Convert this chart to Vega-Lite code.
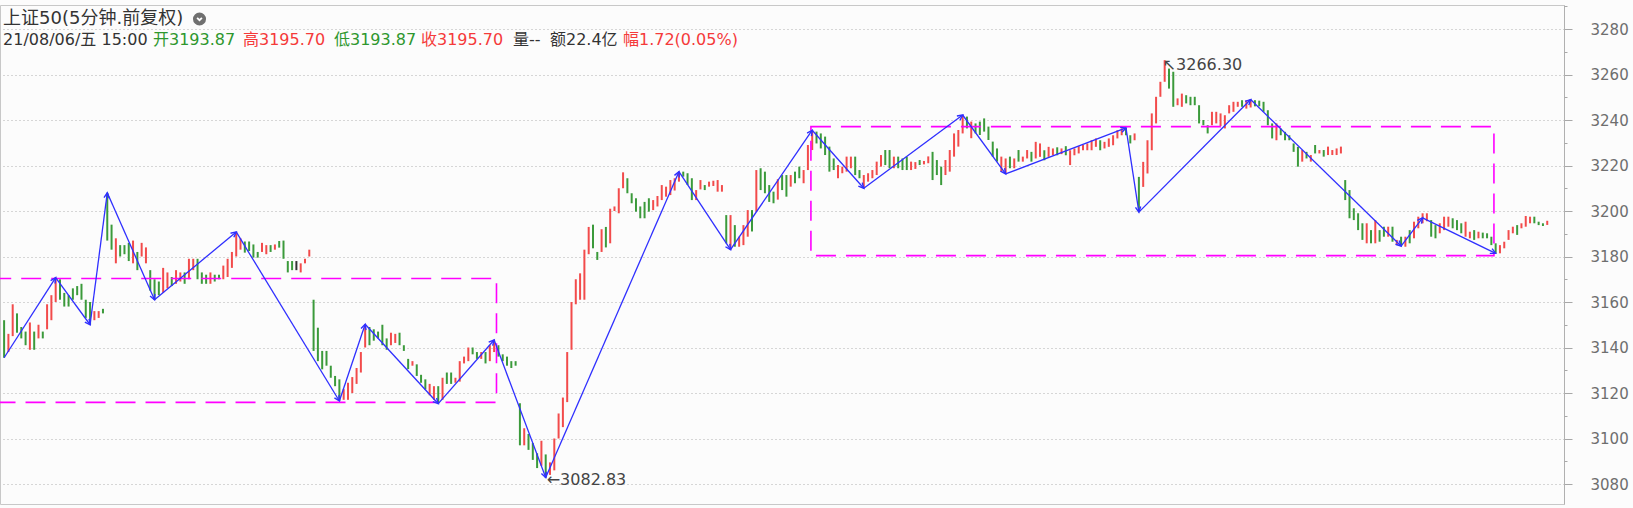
{
 "$schema": "https://vega.github.io/schema/vega-lite/v6.json",
 "width": 1564,
 "height": 499,
 "autosize": {"type": "none"},
 "padding": {"left": 0, "top": 5, "right": 69, "bottom": 4},
 "background": "#fcfcfc",
 "config": {"view": {"stroke": "#c8c8c8", "strokeWidth": 1, "fill": "#fcfcfc"}},
 "resolve": {"axis": {"y": "independent"}},
 "datasets": {
  "bars": [
   {"i":0,"o":3152,"h":3152,"l":3135.5,"c":3136},{"i":1,"o":3138,"h":3146,"l":3138,"c":3146},{"i":2,"o":3145,"h":3159,"l":3145,"c":3159},{"i":3,"o":3155,"h":3155,"l":3146.5,"c":3146.5},{"i":4,"o":3149,"h":3149,"l":3144,"c":3144},{"i":5,"o":3147,"h":3147,"l":3141,"c":3141},{"i":6,"o":3139,"h":3151,"l":3139,"c":3151},{"i":7,"o":3147,"h":3147,"l":3139,"c":3139},{"i":8,"o":3144,"h":3150,"l":3144,"c":3150},{"i":9,"o":3147,"h":3147,"l":3144,"c":3144},{"i":10,"o":3148,"h":3159,"l":3148,"c":3159},{"i":11,"o":3152,"h":3163,"l":3152,"c":3163},{"i":12,"o":3160,"h":3170.7,"l":3160,"c":3169},{"i":13,"o":3170,"h":3170,"l":3161,"c":3161},{"i":14,"o":3164,"h":3164,"l":3158,"c":3158},{"i":15,"o":3163,"h":3163,"l":3158,"c":3158},{"i":16,"o":3166,"h":3166,"l":3161,"c":3161},{"i":17,"o":3167,"h":3167,"l":3163,"c":3163},{"i":18,"o":3168,"h":3168,"l":3161,"c":3161},{"i":19,"o":3161,"h":3161,"l":3153,"c":3153},{"i":20,"o":3160,"h":3160,"l":3150,"c":3151},{"i":21,"o":3152,"h":3156,"l":3152,"c":3156},{"i":22,"o":3153,"h":3156,"l":3153,"c":3156},{"i":23,"o":3157,"h":3157,"l":3155,"c":3155},
   {"i":24,"o":3208,"h":3208,"l":3187,"c":3187},{"i":25,"o":3194,"h":3194,"l":3183,"c":3183},{"i":26,"o":3177,"h":3188,"l":3177,"c":3188},{"i":27,"o":3185,"h":3185,"l":3180,"c":3180},{"i":28,"o":3185,"h":3185,"l":3181,"c":3181},{"i":29,"o":3186,"h":3186,"l":3178,"c":3178},{"i":30,"o":3177,"h":3187,"l":3177,"c":3187},{"i":31,"o":3182,"h":3182,"l":3174,"c":3174},{"i":32,"o":3180,"h":3186,"l":3180,"c":3186},{"i":33,"o":3177,"h":3184,"l":3177,"c":3184},{"i":34,"o":3174,"h":3174,"l":3165,"c":3165},{"i":35,"o":3170,"h":3170,"l":3161,"c":3162},{"i":36,"o":3169,"h":3169,"l":3163,"c":3163},{"i":37,"o":3164,"h":3175,"l":3164,"c":3175},{"i":38,"o":3166,"h":3173,"l":3166,"c":3173},{"i":39,"o":3171,"h":3171,"l":3167,"c":3167},{"i":40,"o":3168,"h":3174,"l":3168,"c":3174},{"i":41,"o":3169,"h":3173,"l":3169,"c":3173},{"i":42,"o":3173,"h":3173,"l":3168,"c":3168},{"i":43,"o":3170,"h":3179,"l":3170,"c":3179},{"i":44,"o":3174,"h":3179,"l":3174,"c":3179},{"i":45,"o":3179,"h":3179,"l":3170,"c":3170},{"i":46,"o":3173,"h":3173,"l":3168,"c":3168},{"i":47,"o":3172,"h":3172,"l":3168,"c":3168},{"i":48,"o":3168,"h":3173,"l":3168,"c":3173},{"i":49,"o":3172,"h":3172,"l":3169,"c":3169},{"i":50,"o":3172,"h":3172,"l":3170,"c":3170},{"i":51,"o":3170,"h":3176,"l":3170,"c":3176},{"i":52,"o":3171,"h":3179,"l":3171,"c":3179},{"i":53,"o":3175,"h":3182,"l":3175,"c":3182},{"i":54,"o":3180,"h":3190.8,"l":3180,"c":3190.8},{"i":55,"o":3183,"h":3188,"l":3183,"c":3188},{"i":56,"o":3186.6,"h":3186.6,"l":3181.7,"c":3181.7},{"i":57,"o":3186.6,"h":3186.6,"l":3182.4,"c":3182.4},{"i":58,"o":3185.3,"h":3185.3,"l":3179.5,"c":3179.5},{"i":59,"o":3182,"h":3182,"l":3179.5,"c":3179.5},{"i":60,"o":3182,"h":3186,"l":3182,"c":3186},{"i":61,"o":3181,"h":3185,"l":3181,"c":3185},{"i":62,"o":3185,"h":3185,"l":3182,"c":3182},{"i":63,"o":3183,"h":3185.3,"l":3183,"c":3185.3},{"i":64,"o":3186.8,"h":3186.8,"l":3183.9,"c":3183.9},{"i":65,"o":3187,"h":3187,"l":3179,"c":3179},{"i":66,"o":3178,"h":3178,"l":3173,"c":3173},{"i":67,"o":3178,"h":3178,"l":3174,"c":3174},{"i":68,"o":3175.5,"h":3178,"l":3174,"c":3175.5},{"i":69,"o":3173,"h":3177,"l":3173,"c":3177},{"i":70,"o":3177,"h":3179,"l":3177,"c":3179},{"i":71,"o":3180,"h":3183,"l":3180,"c":3183},
   {"i":72,"o":3161,"h":3161,"l":3138.5,"c":3138.5},{"i":73,"o":3148.7,"h":3148.7,"l":3134,"c":3134},{"i":74,"o":3138.5,"h":3138.5,"l":3130.4,"c":3130.4},{"i":75,"o":3138.5,"h":3138.5,"l":3132,"c":3132},{"i":76,"o":3132,"h":3132,"l":3126.7,"c":3126.7},{"i":77,"o":3127.5,"h":3127.5,"l":3123,"c":3123},{"i":78,"o":3126,"h":3126,"l":3116.5,"c":3117},{"i":79,"o":3117,"h":3121.7,"l":3117,"c":3121.7},{"i":80,"o":3117,"h":3124.5,"l":3117,"c":3124.5},{"i":81,"o":3120,"h":3127,"l":3120,"c":3127},{"i":82,"o":3124,"h":3131,"l":3124,"c":3131},{"i":83,"o":3129,"h":3138,"l":3129,"c":3138},{"i":84,"o":3140,"h":3150.2,"l":3140,"c":3150},{"i":85,"o":3149,"h":3149,"l":3141,"c":3141},{"i":86,"o":3148,"h":3148,"l":3143,"c":3143},{"i":87,"o":3147,"h":3147,"l":3144,"c":3144},{"i":88,"o":3150,"h":3150,"l":3141,"c":3141},{"i":89,"o":3144,"h":3144,"l":3139,"c":3139},{"i":90,"o":3141,"h":3146.5,"l":3141,"c":3146.5},{"i":91,"o":3142,"h":3146,"l":3142,"c":3146},{"i":92,"o":3146.5,"h":3146.5,"l":3141,"c":3141},{"i":93,"o":3141,"h":3141,"l":3138.5,"c":3138.5},{"i":94,"o":3135,"h":3135,"l":3130.5,"c":3130.5},{"i":95,"o":3132,"h":3134,"l":3132,"c":3134},{"i":96,"o":3132.6,"h":3132.6,"l":3127.5,"c":3127.5},{"i":97,"o":3128,"h":3128,"l":3124.5,"c":3124.5},{"i":98,"o":3126,"h":3126,"l":3121.6,"c":3121.6},{"i":99,"o":3119,"h":3124,"l":3119,"c":3124},{"i":100,"o":3117,"h":3123,"l":3117,"c":3123},{"i":101,"o":3123,"h":3123,"l":3115.3,"c":3116},{"i":102,"o":3117,"h":3126.7,"l":3117,"c":3126.7},{"i":103,"o":3129,"h":3129,"l":3124,"c":3124},{"i":104,"o":3129,"h":3129,"l":3124,"c":3124},{"i":105,"o":3124.5,"h":3126.7,"l":3124.5,"c":3126.7},{"i":106,"o":3125,"h":3134,"l":3125,"c":3134},{"i":107,"o":3133,"h":3136,"l":3133,"c":3136},{"i":108,"o":3134,"h":3140,"l":3134,"c":3140},{"i":109,"o":3140,"h":3140,"l":3137,"c":3137},{"i":110,"o":3138,"h":3138,"l":3135,"c":3135},{"i":111,"o":3135,"h":3138,"l":3135,"c":3138},{"i":112,"o":3138,"h":3138,"l":3133,"c":3133},{"i":113,"o":3134,"h":3141,"l":3134,"c":3141},{"i":114,"o":3138,"h":3143.3,"l":3138,"c":3143},{"i":115,"o":3141,"h":3141,"l":3136,"c":3136},{"i":116,"o":3137,"h":3137,"l":3134,"c":3134},{"i":117,"o":3136,"h":3136,"l":3132,"c":3132},{"i":118,"o":3134,"h":3134,"l":3131,"c":3131},{"i":119,"o":3134,"h":3134,"l":3132,"c":3132},
   {"i":120,"o":3115.5,"h":3115.5,"l":3097,"c":3097},{"i":121,"o":3097,"h":3104.5,"l":3097,"c":3104.5},{"i":122,"o":3102,"h":3102,"l":3095,"c":3095},{"i":123,"o":3098,"h":3098,"l":3090.6,"c":3090.6},{"i":124,"o":3093.5,"h":3093.5,"l":3087,"c":3087},{"i":125,"o":3088,"h":3099,"l":3088,"c":3099},{"i":126,"o":3093,"h":3093,"l":3082.83,"c":3085},{"i":127,"o":3084,"h":3089.5,"l":3084,"c":3089.5},{"i":128,"o":3086,"h":3100,"l":3086,"c":3100},{"i":129,"o":3100,"h":3111,"l":3100,"c":3111},{"i":130,"o":3105,"h":3118,"l":3105,"c":3118},{"i":131,"o":3116,"h":3138,"l":3116,"c":3138},{"i":132,"o":3139,"h":3160,"l":3139,"c":3160},{"i":133,"o":3159,"h":3170,"l":3159,"c":3170},{"i":134,"o":3161,"h":3172.6,"l":3161,"c":3172.6},{"i":135,"o":3161,"h":3183,"l":3161,"c":3183},{"i":136,"o":3181,"h":3193,"l":3181,"c":3193},{"i":137,"o":3194,"h":3194,"l":3183.6,"c":3183.6},{"i":138,"o":3182,"h":3182,"l":3178.5,"c":3178.5},{"i":139,"o":3182,"h":3192,"l":3182,"c":3192},{"i":140,"o":3193,"h":3193,"l":3184,"c":3184},{"i":141,"o":3185.8,"h":3201,"l":3185.8,"c":3201},{"i":142,"o":3200,"h":3202,"l":3200,"c":3202},{"i":143,"o":3199,"h":3210,"l":3199,"c":3210},{"i":144,"o":3210,"h":3217,"l":3210,"c":3217},{"i":145,"o":3214.4,"h":3214.4,"l":3207.8,"c":3207.8},{"i":146,"o":3207.8,"h":3207.8,"l":3203.4,"c":3203.4},{"i":147,"o":3205.6,"h":3205.6,"l":3199.7,"c":3199.7},{"i":148,"o":3202,"h":3202,"l":3196.8,"c":3196.8},{"i":149,"o":3204,"h":3204,"l":3196.8,"c":3196.8},{"i":150,"o":3205.6,"h":3205.6,"l":3199.7,"c":3199.7},{"i":151,"o":3200.4,"h":3204.8,"l":3200.4,"c":3204.8},{"i":152,"o":3202,"h":3206.6,"l":3202,"c":3206.6},{"i":153,"o":3204.8,"h":3211.4,"l":3204.8,"c":3211.4},{"i":154,"o":3206.3,"h":3210.7,"l":3206.3,"c":3210.7},{"i":155,"o":3207,"h":3213.6,"l":3207,"c":3213.6},{"i":156,"o":3209,"h":3214.4,"l":3209,"c":3214.4},{"i":157,"o":3212.9,"h":3217.3,"l":3212.9,"c":3217.3},{"i":158,"o":3217.3,"h":3217.3,"l":3215.1,"c":3215.1},{"i":159,"o":3216.6,"h":3216.6,"l":3211.4,"c":3211.4},{"i":160,"o":3214.4,"h":3214.4,"l":3204.8,"c":3204.8},{"i":161,"o":3204.8,"h":3209.2,"l":3204.8,"c":3209.2},{"i":162,"o":3209.5,"h":3213.6,"l":3209.5,"c":3213.6},{"i":163,"o":3211.4,"h":3211.4,"l":3209.2,"c":3209.2},{"i":164,"o":3210.7,"h":3212.9,"l":3210.7,"c":3212.9},{"i":165,"o":3211,"h":3213.3,"l":3211,"c":3213.3},{"i":166,"o":3208.5,"h":3213.6,"l":3208.5,"c":3213.6},{"i":167,"o":3208.5,"h":3211.4,"l":3208.5,"c":3211.4},
   {"i":168,"o":3198.2,"h":3198.2,"l":3185.8,"c":3185.8},{"i":169,"o":3185.8,"h":3198.2,"l":3183,"c":3198.2},{"i":170,"o":3193.8,"h":3193.8,"l":3184.3,"c":3184.3},{"i":171,"o":3184.3,"h":3188.7,"l":3184.3,"c":3188.7},{"i":172,"o":3185,"h":3193.8,"l":3185,"c":3193.8},{"i":173,"o":3188.7,"h":3200.4,"l":3188.7,"c":3200.4},{"i":174,"o":3200.4,"h":3200.4,"l":3191,"c":3191},{"i":175,"o":3199.7,"h":3218,"l":3199.7,"c":3218},{"i":176,"o":3218.8,"h":3218.8,"l":3209.2,"c":3209.2},{"i":177,"o":3217.3,"h":3217.3,"l":3207.8,"c":3207.8},{"i":178,"o":3211.4,"h":3211.4,"l":3204,"c":3204},{"i":179,"o":3208.5,"h":3208.5,"l":3203.4,"c":3203.4},{"i":180,"o":3205,"h":3214,"l":3205,"c":3214},{"i":181,"o":3215.8,"h":3215.8,"l":3209.2,"c":3209.2},{"i":182,"o":3215.8,"h":3215.8,"l":3206.3,"c":3206.3},{"i":183,"o":3210.7,"h":3215.8,"l":3210.7,"c":3215.8},{"i":184,"o":3217.3,"h":3217.3,"l":3212.2,"c":3212.2},{"i":185,"o":3219.5,"h":3219.5,"l":3214.4,"c":3214.4},{"i":186,"o":3212.2,"h":3218,"l":3212.2,"c":3218},{"i":187,"o":3218,"h":3229,"l":3218,"c":3229},{"i":188,"o":3226.8,"h":3235.5,"l":3226.8,"c":3235.5},{"i":189,"o":3234.9,"h":3234.9,"l":3229.7,"c":3229.7},{"i":190,"o":3234.1,"h":3234.1,"l":3227.5,"c":3227.5},{"i":191,"o":3232.7,"h":3232.7,"l":3224.6,"c":3224.6},{"i":192,"o":3228.3,"h":3228.3,"l":3217.3,"c":3217.3},{"i":193,"o":3223.1,"h":3223.1,"l":3218,"c":3218},{"i":194,"o":3214.4,"h":3220.2,"l":3214.4,"c":3220.2},{"i":195,"o":3216.6,"h":3219.5,"l":3216.6,"c":3219.5},{"i":196,"o":3217.3,"h":3223.9,"l":3217.3,"c":3223.9},{"i":197,"o":3218.8,"h":3223.9,"l":3218.8,"c":3223.9},{"i":198,"o":3223.9,"h":3223.9,"l":3215.8,"c":3215.8},{"i":199,"o":3218,"h":3218,"l":3214.4,"c":3214.4},{"i":200,"o":3210.7,"h":3215.8,"l":3210,"c":3215.8},{"i":201,"o":3212.9,"h":3216.6,"l":3212.9,"c":3216.6},{"i":202,"o":3214.4,"h":3218,"l":3214.4,"c":3218},{"i":203,"o":3215.8,"h":3221.7,"l":3215.8,"c":3221.7},{"i":204,"o":3219.5,"h":3224.6,"l":3219.5,"c":3224.6},{"i":205,"o":3226.8,"h":3226.8,"l":3220.2,"c":3220.2},{"i":206,"o":3226.8,"h":3226.8,"l":3218.8,"c":3218.8},{"i":207,"o":3218.8,"h":3223.9,"l":3218.8,"c":3223.9},{"i":208,"o":3223.9,"h":3223.9,"l":3218.8,"c":3218.8},{"i":209,"o":3223.1,"h":3223.1,"l":3218,"c":3218},{"i":210,"o":3223.9,"h":3223.9,"l":3218,"c":3218},{"i":211,"o":3218,"h":3221.7,"l":3218,"c":3221.7},{"i":212,"o":3218.5,"h":3221.5,"l":3218.5,"c":3221.5},{"i":213,"o":3222.4,"h":3222.4,"l":3220.2,"c":3220.2},{"i":214,"o":3220.5,"h":3222,"l":3220.5,"c":3222},{"i":215,"o":3221,"h":3224,"l":3221,"c":3224},
   {"i":216,"o":3226,"h":3226,"l":3213.6,"c":3213.6},{"i":217,"o":3222.4,"h":3222.4,"l":3215.8,"c":3215.8},{"i":218,"o":3219.5,"h":3219.5,"l":3211.4,"c":3211.4},{"i":219,"o":3215.8,"h":3222.4,"l":3215.8,"c":3222.4},{"i":220,"o":3217.3,"h":3226.8,"l":3217.3,"c":3226.8},{"i":221,"o":3223.9,"h":3234.1,"l":3223.9,"c":3234.1},{"i":222,"o":3228.3,"h":3235.6,"l":3228.3,"c":3235.6},{"i":223,"o":3234.1,"h":3242.2,"l":3234.1,"c":3242.2},{"i":224,"o":3241.5,"h":3241.5,"l":3236.3,"c":3236.3},{"i":225,"o":3232,"h":3239.3,"l":3232,"c":3239.3},{"i":226,"o":3238.5,"h":3238.5,"l":3234.1,"c":3234.1},{"i":227,"o":3239.3,"h":3239.3,"l":3233.4,"c":3233.4},{"i":228,"o":3240.7,"h":3240.7,"l":3234.9,"c":3234.9},{"i":229,"o":3237.1,"h":3237.1,"l":3231.2,"c":3231.2},{"i":230,"o":3230.5,"h":3230.5,"l":3223.9,"c":3223.9},{"i":231,"o":3227.5,"h":3227.5,"l":3221.7,"c":3221.7},{"i":232,"o":3217.3,"h":3223.9,"l":3217.3,"c":3223.9},{"i":233,"o":3216.6,"h":3223.1,"l":3216.3,"c":3223.1},{"i":234,"o":3223.9,"h":3223.9,"l":3218.8,"c":3218.8},{"i":235,"o":3218.8,"h":3223.1,"l":3218.8,"c":3223.1},{"i":236,"o":3226.8,"h":3226.8,"l":3221.7,"c":3221.7},{"i":237,"o":3221.7,"h":3223.9,"l":3221.7,"c":3223.9},{"i":238,"o":3223.1,"h":3226.8,"l":3223.1,"c":3226.8},{"i":239,"o":3226,"h":3226,"l":3221.7,"c":3221.7},{"i":240,"o":3223.1,"h":3230.4,"l":3223.1,"c":3230.4},{"i":241,"o":3223.8,"h":3229.7,"l":3223.8,"c":3229.7},{"i":242,"o":3226.7,"h":3226.7,"l":3222.3,"c":3222.3},{"i":243,"o":3223.8,"h":3228.2,"l":3223.8,"c":3228.2},{"i":244,"o":3224.5,"h":3227.5,"l":3224.5,"c":3227.5},{"i":245,"o":3228,"h":3228,"l":3224.5,"c":3224.5},{"i":246,"o":3225,"h":3227.5,"l":3225,"c":3227.5},{"i":247,"o":3228.5,"h":3228.5,"l":3224.5,"c":3224.5},{"i":248,"o":3220.2,"h":3226.7,"l":3220.2,"c":3226.7},{"i":249,"o":3224.5,"h":3227.5,"l":3224.5,"c":3227.5},{"i":250,"o":3225.3,"h":3228.5,"l":3225.3,"c":3228.5},{"i":251,"o":3226.7,"h":3229,"l":3226.7,"c":3229},{"i":252,"o":3226.7,"h":3229.7,"l":3226.7,"c":3229.7},{"i":253,"o":3226.7,"h":3231.1,"l":3226.7,"c":3231.1},{"i":254,"o":3228.2,"h":3231.9,"l":3228.2,"c":3231.9},{"i":255,"o":3231.1,"h":3231.1,"l":3226.7,"c":3226.7},{"i":256,"o":3227.5,"h":3230.4,"l":3227.5,"c":3230.4},{"i":257,"o":3228.2,"h":3231.9,"l":3228.2,"c":3231.9},{"i":258,"o":3228.9,"h":3233.3,"l":3228.9,"c":3233.3},{"i":259,"o":3231.9,"h":3235.5,"l":3231.9,"c":3235.5},{"i":260,"o":3233.3,"h":3236.3,"l":3233.3,"c":3236.3},{"i":261,"o":3236.5,"h":3236.5,"l":3233.3,"c":3233.3},{"i":262,"o":3233.3,"h":3233.3,"l":3229.7,"c":3229.7},{"i":263,"o":3231.1,"h":3234.1,"l":3231.1,"c":3234.1},
   {"i":264,"o":3215,"h":3215,"l":3199.5,"c":3201},{"i":265,"o":3210.6,"h":3221.6,"l":3210.6,"c":3221.6},{"i":266,"o":3216.5,"h":3231.1,"l":3216.5,"c":3231.1},{"i":267,"o":3226.7,"h":3242.9,"l":3226.7,"c":3242.9},{"i":268,"o":3238.5,"h":3250.2,"l":3238.5,"c":3250.2},{"i":269,"o":3250.2,"h":3256.8,"l":3250.2,"c":3256.8},{"i":270,"o":3256.8,"h":3266.3,"l":3256.8,"c":3264},{"i":271,"o":3262.6,"h":3262.6,"l":3253.8,"c":3253.8},{"i":272,"o":3261.2,"h":3261.2,"l":3245.8,"c":3245.8},{"i":273,"o":3246.5,"h":3249.5,"l":3246.5,"c":3249.5},{"i":274,"o":3245.8,"h":3251.6,"l":3245.8,"c":3251.6},{"i":275,"o":3250.9,"h":3250.9,"l":3247.3,"c":3247.3},{"i":276,"o":3250.2,"h":3250.2,"l":3246.5,"c":3246.5},{"i":277,"o":3250.2,"h":3250.2,"l":3246.5,"c":3246.5},{"i":278,"o":3246.5,"h":3246.5,"l":3238.5,"c":3238.5},{"i":279,"o":3240,"h":3240,"l":3237.7,"c":3237.7},{"i":280,"o":3237.7,"h":3237.7,"l":3234.1,"c":3234.1},{"i":281,"o":3237.7,"h":3243.6,"l":3237.7,"c":3243.6},{"i":282,"o":3238.5,"h":3243.6,"l":3238.5,"c":3243.6},{"i":283,"o":3237.3,"h":3242.9,"l":3237.3,"c":3242.9},{"i":284,"o":3236.3,"h":3242.1,"l":3236.3,"c":3242.1},{"i":285,"o":3242.9,"h":3246.5,"l":3242.9,"c":3246.5},{"i":286,"o":3243.6,"h":3248,"l":3243.6,"c":3248},{"i":287,"o":3245.8,"h":3248,"l":3245.8,"c":3248},{"i":288,"o":3248.7,"h":3248.7,"l":3245.8,"c":3245.8},{"i":289,"o":3245,"h":3248.7,"l":3245,"c":3248.7},{"i":290,"o":3245.5,"h":3249,"l":3245.5,"c":3248.5},{"i":291,"o":3248.7,"h":3248.7,"l":3246,"c":3246},{"i":292,"o":3248.5,"h":3248.5,"l":3246,"c":3246},{"i":293,"o":3248,"h":3248,"l":3243.6,"c":3243.6},{"i":294,"o":3244.3,"h":3244.3,"l":3237.7,"c":3237.7},{"i":295,"o":3238.5,"h":3238.5,"l":3231.9,"c":3231.9},{"i":296,"o":3231.1,"h":3238.5,"l":3231.1,"c":3238.5},{"i":297,"o":3236.3,"h":3236.3,"l":3233.3,"c":3233.3},{"i":298,"o":3234.8,"h":3234.8,"l":3231.1,"c":3231.1},{"i":299,"o":3233.3,"h":3233.3,"l":3231.1,"c":3231.1},{"i":300,"o":3229.7,"h":3229.7,"l":3226,"c":3226},{"i":301,"o":3228.2,"h":3228.2,"l":3219.5,"c":3219.5},{"i":302,"o":3221.7,"h":3226.8,"l":3221.7,"c":3226.8},{"i":303,"o":3226,"h":3226,"l":3223.1,"c":3223.1},{"i":304,"o":3221.7,"h":3224.6,"l":3221.7,"c":3224.6},{"i":305,"o":3229,"h":3229,"l":3225.3,"c":3225.3},{"i":306,"o":3225.3,"h":3226.8,"l":3225.3,"c":3226.8},{"i":307,"o":3226.8,"h":3226.8,"l":3223.9,"c":3223.9},{"i":308,"o":3224.6,"h":3228.3,"l":3224.6,"c":3228.3},{"i":309,"o":3224.6,"h":3226.8,"l":3224.6,"c":3226.8},{"i":310,"o":3224.6,"h":3227.5,"l":3224.6,"c":3227.5},{"i":311,"o":3225.3,"h":3228.3,"l":3225.3,"c":3228.3},
   {"i":312,"o":3213.6,"h":3213.6,"l":3204.8,"c":3204.8},{"i":313,"o":3209.2,"h":3209.2,"l":3196.8,"c":3196.8},{"i":314,"o":3201.2,"h":3201.2,"l":3196,"c":3196},{"i":315,"o":3199,"h":3199,"l":3191.6,"c":3191.6},{"i":316,"o":3194.6,"h":3194.6,"l":3187.3,"c":3187.3},{"i":317,"o":3185.8,"h":3194.6,"l":3185.8,"c":3194.6},{"i":318,"o":3191.6,"h":3191.6,"l":3185.8,"c":3185.8},{"i":319,"o":3185.8,"h":3196,"l":3185.8,"c":3196},{"i":320,"o":3191.6,"h":3191.6,"l":3186.5,"c":3186.5},{"i":321,"o":3193.1,"h":3193.1,"l":3188.7,"c":3188.7},{"i":322,"o":3188.7,"h":3193.1,"l":3188.7,"c":3193.1},{"i":323,"o":3193.1,"h":3193.1,"l":3186.5,"c":3186.5},{"i":324,"o":3185,"h":3187.3,"l":3185,"c":3187.3},{"i":325,"o":3188.7,"h":3188.7,"l":3184.6,"c":3184.6},{"i":326,"o":3184.3,"h":3188.7,"l":3184.3,"c":3188.7},{"i":327,"o":3191.6,"h":3191.6,"l":3185.8,"c":3185.8},{"i":328,"o":3188,"h":3195.3,"l":3188,"c":3195.3},{"i":329,"o":3192.4,"h":3197.5,"l":3192.4,"c":3197.5},{"i":330,"o":3194.6,"h":3199,"l":3194.6,"c":3197},{"i":331,"o":3195.5,"h":3199,"l":3195.5,"c":3199},{"i":332,"o":3196,"h":3196,"l":3188.7,"c":3188.7},{"i":333,"o":3193.8,"h":3193.8,"l":3188,"c":3188},{"i":334,"o":3190.2,"h":3194.6,"l":3190.2,"c":3194.6},{"i":335,"o":3191.6,"h":3197.5,"l":3191.6,"c":3197.5},{"i":336,"o":3193.1,"h":3197.5,"l":3193.1,"c":3197.5},{"i":337,"o":3196.8,"h":3196.8,"l":3192.4,"c":3192.4},{"i":338,"o":3196,"h":3196,"l":3191.6,"c":3191.6},{"i":339,"o":3194.6,"h":3194.6,"l":3190.2,"c":3190.2},{"i":340,"o":3188.7,"h":3195.3,"l":3188.7,"c":3195.3},{"i":341,"o":3188,"h":3190.9,"l":3188,"c":3190.9},{"i":342,"o":3191.6,"h":3191.6,"l":3187.3,"c":3187.3},{"i":343,"o":3188,"h":3190.9,"l":3188,"c":3190.9},{"i":344,"o":3190.5,"h":3190.5,"l":3188,"c":3188},{"i":345,"o":3190.2,"h":3190.2,"l":3188,"c":3188},{"i":346,"o":3188.7,"h":3188.7,"l":3185,"c":3185},{"i":347,"o":3185.8,"h":3185.8,"l":3181.4,"c":3181.4},{"i":348,"o":3181.4,"h":3185,"l":3181.4,"c":3185},{"i":349,"o":3183.6,"h":3186.5,"l":3183.6,"c":3186.5},{"i":350,"o":3187.3,"h":3191.6,"l":3187.3,"c":3191.6},{"i":351,"o":3190.2,"h":3193.1,"l":3190.2,"c":3193.1},{"i":352,"o":3193.8,"h":3193.8,"l":3189.5,"c":3189.5},{"i":353,"o":3192.4,"h":3194.6,"l":3192.4,"c":3194.6},{"i":354,"o":3193.1,"h":3197.8,"l":3193.1,"c":3197.8},{"i":355,"o":3194.6,"h":3197.5,"l":3194.6,"c":3197.5},{"i":356,"o":3197.5,"h":3197.5,"l":3194.6,"c":3194.6},{"i":357,"o":3195.3,"h":3195.3,"l":3193.8,"c":3193.8},{"i":358,"o":3194.6,"h":3194.6,"l":3193.4,"c":3193.4},{"i":359,"o":3193.87,"h":3195.7,"l":3193.87,"c":3195.7}
  ],
  "zig": [
   {"i0":0,"p0":3135.5,"i1":12,"p1":3170.7},{"i0":12,"p0":3170.7,"i1":20,"p1":3150},{"i0":20,"p0":3150,"i1":24,"p1":3208},{"i0":24,"p0":3208,"i1":35,"p1":3161},{"i0":35,"p0":3161,"i1":54,"p1":3190.8},{"i0":54,"p0":3190.8,"i1":78,"p1":3116.5},{"i0":78,"p0":3116.5,"i1":84,"p1":3150.2},{"i0":84,"p0":3150.2,"i1":101,"p1":3115.3},{"i0":101,"p0":3115.3,"i1":114,"p1":3143.3},{"i0":114,"p0":3143.3,"i1":126,"p1":3082.83},{"i0":126,"p0":3082.83,"i1":157,"p1":3217.3},{"i0":157,"p0":3217.3,"i1":169,"p1":3183},{"i0":169,"p0":3183,"i1":188,"p1":3235.5},{"i0":188,"p0":3235.5,"i1":200,"p1":3210},{"i0":200,"p0":3210,"i1":223,"p1":3242.2},{"i0":223,"p0":3242.2,"i1":233,"p1":3216.3},{"i0":233,"p0":3216.3,"i1":261,"p1":3236.5},{"i0":261,"p0":3236.5,"i1":264,"p1":3199.5},{"i0":264,"p0":3199.5,"i1":290,"p1":3249},{"i0":290,"p0":3249,"i1":325,"p1":3184.6},{"i0":325,"p0":3184.6,"i1":330,"p1":3197},{"i0":330,"p0":3197,"i1":347,"p1":3181.4}
  ],
  "boxes": [
   {"x0":-3,"x1":114.55,"lo":3115.9,"hi":3170.3},
   {"x0":187.7,"x1":346.6,"lo":3180.4,"hi":3237.1}
  ],
  "lowlab": [{"i":126,"p":3082.83,"t":"←3082.83"}],
  "highlab": [{"i":270,"p":3266.3,"t":"↖3266.30"}],
  "title1": [{"i":-0.23,"p":3284.4,"t":"上证50(5分钟.前复权)"}],
  "title2": [
   {"i":-0.23,"p":3274.95,"t":"21/08/06/五 15:00","tone":"dark"},
   {"i":34.64,"p":3274.95,"t":"开3193.87","tone":"down"},
   {"i":55.58,"p":3274.95,"t":"高3195.70","tone":"up"},
   {"i":76.74,"p":3274.95,"t":"低3193.87","tone":"down"},
   {"i":96.99,"p":3274.95,"t":"收3195.70","tone":"up"},
   {"i":118.39,"p":3274.95,"t":"量--","tone":"dark"},
   {"i":126.99,"p":3274.95,"t":"额22.4亿","tone":"dark"},
   {"i":143.98,"p":3274.95,"t":"幅1.72(0.05%)","tone":"up"}
  ],
  "icon": [{"i":45.46,"p":3284.4}]
 },
 "layer": [
  {
   "data": {"name": "bars"},
   "mark": {"type": "rule", "strokeWidth": 2},
   "encoding": {
    "x": {"field": "i", "type": "quantitative", "scale": {"domain": [-0.954, 362.9], "nice": false, "zero": false},
          "axis": {"orient": "bottom", "values": [24, 72, 120, 168, 216, 264, 312], "grid": true, "gridColor": "#b0b0b0", "gridDash": [1, 3], "gridWidth": 1, "labels": false, "ticks": false, "domain": false, "title": null}},
    "y": {"field": "l", "type": "quantitative", "scale": {"domain": [3071.21, 3290.55], "nice": false, "zero": false},
          "axis": {"orient": "right", "values": [3080, 3100, 3120, 3140, 3160, 3180, 3200, 3220, 3240, 3260, 3280], "format": "d", "grid": true, "gridColor": "#b0b0b0", "gridDash": [1, 3], "gridWidth": 1, "domain": true, "domainColor": "#b0b0b0", "domainWidth": 1, "ticks": true, "tickColor": "#a8a8a8", "tickSize": 8, "labelPadding": 18, "labelFont": "DejaVu Sans", "labelFontSize": 15, "labelColor": "#6e6e6e", "labelAlign": "left", "labelBaseline": "middle", "labelOverlap": false, "title": null}},
    "y2": {"field": "h"},
    "color": {"condition": [{"test": "datum.c > datum.o", "value": "#f24b4b"}, {"test": "datum.c < datum.o", "value": "#3b9a3b"}], "value": "#333333"}
   }
  },
  {
   "data": {"name": "boxes"},
   "mark": {"type": "rect", "fillOpacity": 0, "stroke": "#ff00ff", "strokeWidth": 1.6, "strokeDash": [20, 10], "clip": true},
   "encoding": {
    "x": {"field": "x0", "type": "quantitative", "scale": {"domain": [-0.954, 362.9], "nice": false, "zero": false}, "axis": null},
    "x2": {"field": "x1"},
    "y": {"field": "lo", "type": "quantitative", "scale": {"domain": [3071.21, 3290.55], "nice": false, "zero": false},
          "axis": {"orient": "right", "values": [3090, 3110, 3130, 3150, 3170, 3190, 3210, 3230, 3250, 3270, 3290], "grid": false, "domain": false, "labels": false, "ticks": true, "tickSize": 3, "tickColor": "#a8a8a8", "title": null}},
    "y2": {"field": "hi"}
   }
  },
  {
   "data": {"name": "zig"},
   "mark": {"type": "rule", "color": "#2f2fff", "strokeWidth": 1.3, "clip": true},
   "encoding": {
    "x": {"field": "i0", "type": "quantitative", "scale": {"domain": [-0.954, 362.9], "nice": false, "zero": false}, "axis": null},
    "y": {"field": "p0", "type": "quantitative", "scale": {"domain": [3071.21, 3290.55], "nice": false, "zero": false}, "axis": null},
    "x2": {"field": "i1"},
    "y2": {"field": "p1"}
   }
  },
  {
   "data": {"name": "zig"},
   "transform": [{"calculate": "atan2((datum.i1 - datum.i0) * 4.2985, (datum.p1 - datum.p0) * 2.275) * 180 / PI", "as": "ang"}],
   "mark": {"type": "point", "shape": "M-0.5,1L0,0L0.5,1", "filled": false, "stroke": "#2f2fff", "strokeWidth": 1.4, "size": 110, "opacity": 1},
   "encoding": {
    "x": {"field": "i1", "type": "quantitative", "scale": {"domain": [-0.954, 362.9], "nice": false, "zero": false}, "axis": null},
    "y": {"field": "p1", "type": "quantitative", "scale": {"domain": [3071.21, 3290.55], "nice": false, "zero": false}, "axis": null},
    "angle": {"field": "ang", "type": "quantitative", "scale": null}
   }
  },
  {
   "data": {"name": "lowlab"},
   "mark": {"type": "text", "align": "left", "baseline": "middle", "dx": 1, "dy": 2, "font": "DejaVu Sans", "fontSize": 16, "color": "#444444"},
   "encoding": {
    "x": {"field": "i", "type": "quantitative", "scale": {"domain": [-0.954, 362.9], "nice": false, "zero": false}, "axis": null},
    "y": {"field": "p", "type": "quantitative", "scale": {"domain": [3071.21, 3290.55], "nice": false, "zero": false}, "axis": null},
    "text": {"field": "t"}
   }
  },
  {
   "data": {"name": "highlab"},
   "mark": {"type": "text", "align": "left", "baseline": "middle", "dx": -2, "dy": 5, "font": "DejaVu Sans", "fontSize": 16, "color": "#444444"},
   "encoding": {
    "x": {"field": "i", "type": "quantitative", "scale": {"domain": [-0.954, 362.9], "nice": false, "zero": false}, "axis": null},
    "y": {"field": "p", "type": "quantitative", "scale": {"domain": [3071.21, 3290.55], "nice": false, "zero": false}, "axis": null},
    "text": {"field": "t"}
   }
  },
  {
   "data": {"name": "title1"},
   "mark": {"type": "text", "align": "left", "baseline": "middle", "font": "DejaVu Sans, Noto Sans CJK SC", "fontSize": 18, "color": "#333333"},
   "encoding": {
    "x": {"field": "i", "type": "quantitative", "scale": {"domain": [-0.954, 362.9], "nice": false, "zero": false}, "axis": null},
    "y": {"field": "p", "type": "quantitative", "scale": {"domain": [3071.21, 3290.55], "nice": false, "zero": false}, "axis": null},
    "text": {"field": "t"}
   }
  },
  {
   "data": {"name": "title2"},
   "mark": {"type": "text", "align": "left", "baseline": "middle", "font": "DejaVu Sans, Noto Sans CJK SC", "fontSize": 16},
   "encoding": {
    "x": {"field": "i", "type": "quantitative", "scale": {"domain": [-0.954, 362.9], "nice": false, "zero": false}, "axis": null},
    "y": {"field": "p", "type": "quantitative", "scale": {"domain": [3071.21, 3290.55], "nice": false, "zero": false}, "axis": null},
    "text": {"field": "t"},
    "color": {"field": "tone", "type": "nominal", "scale": {"domain": ["dark", "up", "down"], "range": ["#333333", "#f53a3a", "#2e972e"]}, "legend": null}
   }
  },
  {
   "data": {"name": "icon"},
   "mark": {"type": "point", "shape": "circle", "filled": true, "color": "#707070", "size": 170, "opacity": 1},
   "encoding": {
    "x": {"field": "i", "type": "quantitative", "scale": {"domain": [-0.954, 362.9], "nice": false, "zero": false}, "axis": null},
    "y": {"field": "p", "type": "quantitative", "scale": {"domain": [3071.21, 3290.55], "nice": false, "zero": false}, "axis": null}
   }
  },
  {
   "data": {"name": "icon"},
   "mark": {"type": "point", "shape": "M-0.6,-0.3L0,0.3L0.6,-0.3", "filled": false, "stroke": "#ffffff", "strokeWidth": 1.8, "size": 64, "opacity": 1},
   "encoding": {
    "x": {"field": "i", "type": "quantitative", "scale": {"domain": [-0.954, 362.9], "nice": false, "zero": false}, "axis": null},
    "y": {"field": "p", "type": "quantitative", "scale": {"domain": [3071.21, 3290.55], "nice": false, "zero": false}, "axis": null}
   }
  }
 ]
}
